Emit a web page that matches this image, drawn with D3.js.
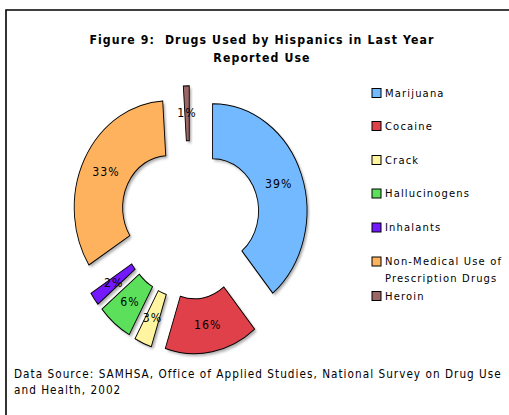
<!DOCTYPE html>
<html><head><meta charset="utf-8">
<script src="https://cdn.jsdelivr.net/npm/d3@7"></script>
<style>
html,body{margin:0;padding:0;background:#fff;}
svg{display:block;}
text{font-family:"DejaVu Sans",Verdana,sans-serif;white-space:pre;}
</style></head>
<body>
<svg id="c" width="509" height="415"></svg>
<script>
const titleLines = ["Figure 9:  Drugs Used by Hispanics in Last Year", "Reported Use"];
const categories = ["Marijuana", "Cocaine", "Crack", "Hallucinogens", "Inhalants", "Non-Medical Use of Prescription Drugs", "Heroin"];
const legendLines = [["Marijuana"], ["Cocaine"], ["Crack"], ["Hallucinogens"], ["Inhalants"], ["Non-Medical Use of", "Prescription Drugs"], ["Heroin"]];
const values = [39, 16, 3, 6, 2, 33, 1];
const valueLabels = ["39%", "16%", "3%", "6%", "2%", "33%", "1%"];
const colors = ["#73b9ff", "#e0404a", "#fff4a0", "#5ce05c", "#7418ff", "#ffb25e", "#9c6666"];
const footerLines = ["Data Source: SAMHSA, Office of Applied Studies, National Survey on Drug Use", "and Health, 2002"];

const svg = d3.select("#c");
const W = 509, H = 415;
const sy = 1.133;           // vertical stretch of the original picture
const cx = 190, cy = 220;
const Ro = 94.4, Ri = 46, explode = 24;

// frame
svg.append("path").attr("d", `M6,${H} V10 H${W}`).attr("fill", "none").attr("stroke", "#000").attr("stroke-width", 1.6);

// title
svg.append("g").selectAll("text").data(titleLines).join("text")
  .attr("transform", (d, i) => `translate(262,${44 + i * 17.5}) scale(1,${sy})`)
  .attr("text-anchor", "middle").attr("font-weight", "bold").attr("font-size", 11)
  .attr("letter-spacing", 1.1).attr("xml:space", "preserve")
  .attr("fill", "#000").text(d => d);

const defs = svg.append("defs");
defs.append("filter").attr("id", "sh").attr("x", "-20%").attr("y", "-20%").attr("width", "140%").attr("height", "140%")
  .append("feGaussianBlur").attr("stdDeviation", 1.2);

const pie = d3.pie().sort(null).value(d => d);
const arcs = pie(values);
const arc = d3.arc().innerRadius(Ri).outerRadius(Ro);
const mid = a => (a.startAngle + a.endAngle) / 2;

const pg = svg.append("g").attr("transform", `translate(${cx},${cy}) scale(1,${sy})`);
const slices = pg.selectAll("g.s").data(arcs).join("g").attr("class", "s")
  .attr("transform", a => `translate(${Math.sin(mid(a)) * explode},${-Math.cos(mid(a)) * explode})`);
slices.append("path").attr("d", arc).attr("fill", "#888").attr("opacity", 0.7)
  .attr("transform", "translate(2,2)").attr("filter", "url(#sh)");
slices.append("path").attr("d", arc).attr("fill", (d, i) => colors[i])
  .attr("stroke", "#000").attr("stroke-width", 0.9);

// slice labels
svg.append("g").selectAll("text").data(arcs).join("text")
  .attr("transform", a => {
    const c = arc.centroid(a);
    const ox = Math.sin(mid(a)) * explode, oy = -Math.cos(mid(a)) * explode;
    return `translate(${cx + c[0] + ox},${cy + (c[1] + oy) * sy + 4}) scale(1,${sy})`;
  })
  .attr("text-anchor", "middle").attr("font-size", 11).attr("letter-spacing", 1).attr("fill", "#000")
  .text((d, i) => valueLabels[i]);

// legend
const lyTop = [93, 126, 160, 193.5, 227.5, 261.5, 296];
const lg = svg.append("g");
const items = lg.selectAll("g").data(categories).join("g")
  .attr("transform", (d, i) => `translate(372,${lyTop[i]})`);
items.append("rect").attr("x", 0).attr("y", -4.5).attr("width", 9).attr("height", 9)
  .attr("fill", (d, i) => colors[i]).attr("stroke", "#000").attr("stroke-width", 1);
items.append("text").attr("font-size", 10).attr("letter-spacing", 1.15).attr("fill", "#000")
  .attr("transform", `scale(1,${sy})`)
  .selectAll("tspan").data((d, i) => legendLines[i]).join("tspan")
  .attr("x", 13).attr("y", (d, j) => 3.5 + j * 14.5).text(d => d);

// footer
svg.append("g").selectAll("text").data(footerLines).join("text")
  .attr("transform", (d, i) => `translate(14,${378 + i * 15.5}) scale(1,${sy})`)
  .attr("font-size", 10.5).attr("letter-spacing", 1.03).attr("fill", "#000").text(d => d);
</script>
</body></html>
